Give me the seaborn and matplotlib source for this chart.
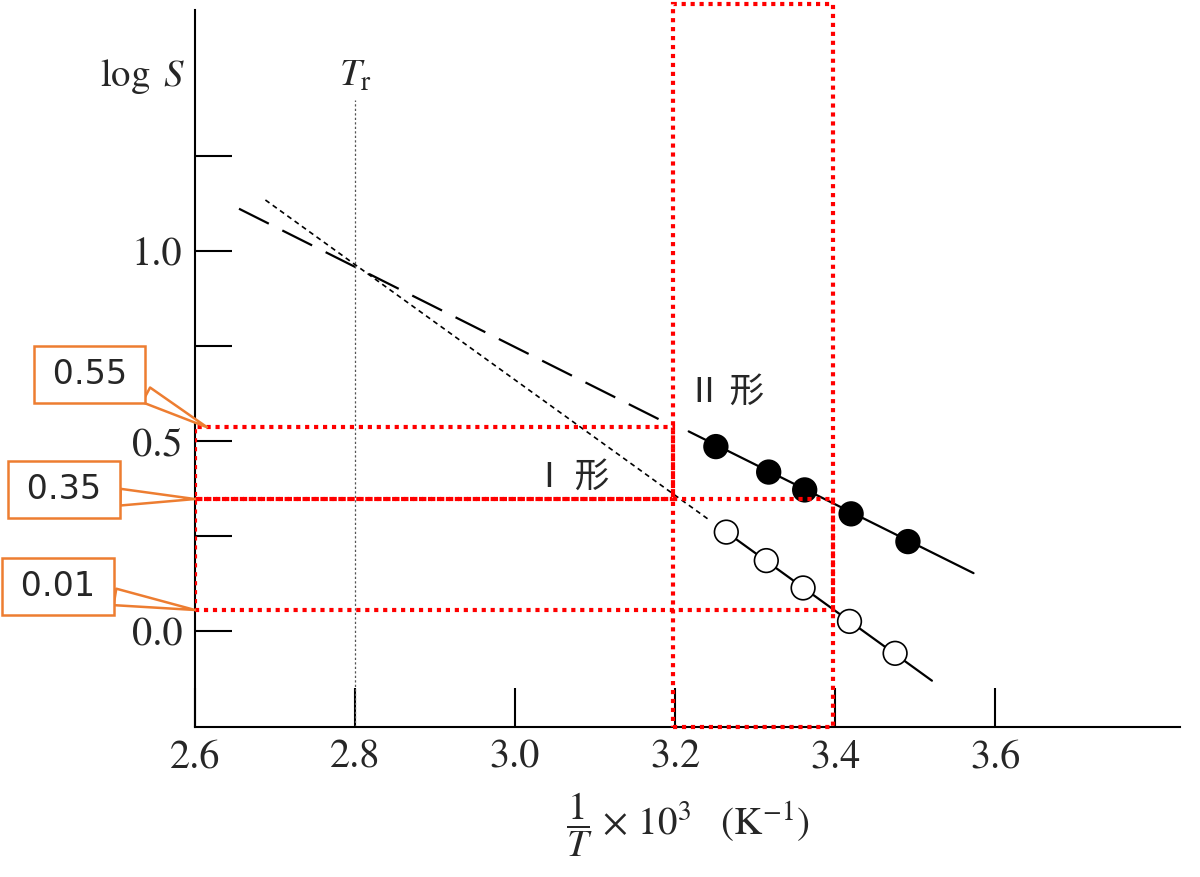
import matplotlib
matplotlib.use("Agg")
import matplotlib.pyplot as plt
from matplotlib.patches import Rectangle
import pandas as pd
import seaborn as sns

# measured solubility points (1/T x 10^3, log S)
form2_x = [3.251, 3.317, 3.362, 3.420, 3.491]
form2_y = [0.485, 0.418, 0.371, 0.308, 0.235]
form1_x = [3.264, 3.314, 3.360, 3.418, 3.475]
form1_y = [0.260, 0.185, 0.113, 0.025, -0.059]

# fitted lines and their extrapolations to higher temperature
form2_fit_x = [3.217, 3.573]
form2_fit_y = [0.525, 0.152]
form2_ext_x = [2.655, 3.194]
form2_ext_y = [1.111, 0.542]
form1_fit_x = [3.264, 3.521]
form1_fit_y = [0.260, -0.131]
form1_ext_x = [2.688, 3.244]
form1_ext_y = [1.134, 0.290]

t_r = 2.8
t_r_top = 1.397

x_ticks = [2.6, 2.8, 3.0, 3.2, 3.4, 3.6]
x_ticklabels = ['2.6', '2.8', '3.0', '3.2', '3.4', '3.6']
y_ticks = [0.0, 0.25, 0.5, 0.75, 1.0, 1.25]
y_ticklabels = ['0.0', '', '0.5', '', '1.0', '']

# red guide box (reading range) and callouts
guide_x = [3.197, 3.397]
guide_y = [0.536, 0.347, 0.055]
callout_labels = ['0.55', '0.35', '0.01']

sns.set_style('white')
plt.rcParams['font.family'] = ['STIXGeneral', 'Noto Sans CJK JP', 'DejaVu Sans']
plt.rcParams['mathtext.fontset'] = 'stix'

fig = plt.figure(figsize=(12, 8.77), dpi=100)
ax = fig.add_axes([0.1625, 0.171, 0.8208, 0.8176])
x_min, x_max = 2.6, 3.831
y_min, y_max = -0.253, 1.634

# lines
ax.plot(form2_ext_x, form2_ext_y, color='black', lw=1.6, linestyle=(0, (15, 6.8)))
ax.plot(form2_fit_x, form2_fit_y, color='black', lw=1.6)
ax.plot(form1_ext_x, form1_ext_y, color='black', lw=1.2, linestyle=(0, (3, 2.4)))
ax.plot(form1_fit_x, form1_fit_y, color='black', lw=1.6)
ax.plot([t_r, t_r], [y_min, t_r_top], color='#555555', lw=0.9, linestyle=(0, (1.8, 1.8)))

# points
df = pd.DataFrame({
    'x': form2_x + form1_x,
    'y': form2_y + form1_y,
    'form': ['II'] * len(form2_x) + ['I'] * len(form1_x),
})
sns.scatterplot(data=df, x='x', y='y', hue='form', palette={'II': 'black', 'I': 'white'},
                edgecolor='black', linewidth=1.2, s=290, legend=False, zorder=3, ax=ax)

# red guide rectangles
red_style = dict(fill=False, ec='#ff0000', lw=3, linestyle=(0, (1.0, 1.15)), zorder=4)
ax.add_patch(Rectangle((x_min, guide_y[1]), guide_x[0] - x_min, guide_y[0] - guide_y[1], **red_style))
ax.add_patch(Rectangle((x_min, guide_y[2]), guide_x[1] - x_min, guide_y[1] - guide_y[2], **red_style))
ax.add_patch(Rectangle((guide_x[0], y_min), guide_x[1] - guide_x[0], 1.65 - y_min,
                       clip_on=False, **red_style))

# callouts
tip_x = [2.615, 2.6, 2.6]
box_pos = [(2.468, 0.675), (2.436, 0.371), (2.429, 0.118)]
for lab, lvl, tx, (bx, by) in zip(callout_labels, guide_y, tip_x, box_pos):
    ax.annotate('\u2009' + lab + '\u2009', xy=(tx, lvl), xytext=(bx, by), ha='center', va='center',
                fontsize=24, family='DejaVu Sans', annotation_clip=False, zorder=5,
                bbox=dict(boxstyle='square,pad=0.36', fc='white', ec='#ED7D31', lw=1.8),
                arrowprops=dict(arrowstyle='wedge,tail_width=0.5', fc='white', ec='#ED7D31',
                                lw=1.8, relpos=(0.85, 0.3), shrinkA=0, shrinkB=0))

# texts
ax.text(3.263, 0.629, 'Ⅱ 形', fontsize=25, family=['Noto Sans CJK JP'], ha='center', va='center')
ax.text(3.069, 0.403, 'Ⅰ 形', fontsize=25, family=['Noto Sans CJK JP'], ha='center', va='center')
ax.text(2.588, 1.46, r'$\log\ S$', fontsize=28, ha='right', va='center')
ax.text(t_r, 1.46, r'$T_{\mathrm{r}}$', fontsize=28, ha='center', va='center')

ax.set_xlim(x_min, x_max)
ax.set_ylim(y_min, y_max)
ax.set_xticks(x_ticks)
ax.set_xticklabels(x_ticklabels)
ax.set_yticks(y_ticks)
ax.set_yticklabels(y_ticklabels)
ax.tick_params(axis='x', bottom=True, direction='in', length=28, width=1.5, pad=9,
               labelsize=29, color='black')
ax.tick_params(axis='y', left=True, direction='in', length=26.5, width=1.5, pad=9,
               labelsize=29, color='black')
ax.set_xlabel(r'$\dfrac{1}{T}\,\times\,10^{3}\ \ \ (\mathrm{K}^{-1})$', fontsize=28, labelpad=10)
ax.set_ylabel('')
for side in ['top', 'right']:
    ax.spines[side].set_visible(False)
for side in ['left', 'bottom']:
    ax.spines[side].set_color('black')
    ax.spines[side].set_linewidth(1.5)

fig.savefig('out.png', dpi=100)
